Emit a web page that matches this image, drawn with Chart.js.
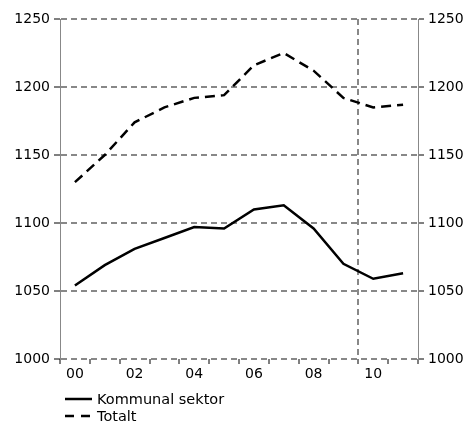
<!DOCTYPE html>
<html lang="sv">
<head>
<meta charset="UTF-8">
<title>Kommunal sektor och totalt</title>
<script src="https://cdn.jsdelivr.net/npm/chart.js"></script>
<style>
  body { margin: 0; background: #fff; font-family: 'DejaVu Sans', Verdana, sans-serif; }
  .wrap { position: relative; width: 471px; height: 423px; }
  canvas { display: block; }
  .legend { position: absolute; left: 65px; top: 390px; font-size: 14.5px; color: #000; }
  .legend .item { display: flex; align-items: center; height: 17.5px; }
  .legend svg { margin-right: 5px; }
</style>
</head>
<body>
<div class="wrap">
  <canvas id="chart" width="471" height="423"></canvas>
  <div class="legend">
    <div class="item"><svg width="27" height="4"><line x1="0" y1="2" x2="27" y2="2" stroke="#000" stroke-width="2.5"/></svg>Kommunal sektor</div>
    <div class="item"><svg width="27" height="4"><line x1="0" y1="2" x2="27" y2="2" stroke="#000" stroke-width="2.5" stroke-dasharray="9,7"/></svg>Totalt</div>
  </div>
</div>

<script>
  const years = ['00', '01', '02', '03', '04', '05', '06', '07', '08', '09', '10', '11'];
  const kommunal = [1054, 1069, 1081, 1089, 1097, 1096, 1110, 1113, 1096, 1070, 1059, 1063];
  const totalt = [1130, 1150, 1174, 1185, 1192, 1194, 1216, 1225, 1212, 1192, 1185, 1187];
  const yMin = 1000, yMax = 1250, yStep = 50;
  const forecastLine = 10; // grid line between 09 and 10

  const tickFont = { family: 'DejaVu Sans', size: 14 };

  const yAxis = (pos, width) => ({
    position: pos,
    min: yMin,
    max: yMax,
    ticks: { stepSize: yStep, color: '#000', font: tickFont, padding: 4, callback: v => String(v) },
    grid: {
      color: '#888',
      lineWidth: 2,
      drawOnChartArea: pos === 'left',
      tickColor: '#000',
      tickWidth: 1,
      tickLength: 6
    },
    border: { display: true, color: '#888', width: 1, dash: [6, 4] },
    afterFit: scale => { scale.width = width; }
  });

  new Chart(document.getElementById('chart'), {
    type: 'line',
    data: {
      labels: years,
      datasets: [
        { label: 'Kommunal sektor', data: kommunal, borderColor: '#000', borderWidth: 2.5, pointRadius: 0, tension: 0, yAxisID: 'y' },
        { label: 'Totalt', data: totalt, borderColor: '#000', borderWidth: 2.5, borderDash: [10, 6], pointRadius: 0, tension: 0, yAxisID: 'y' }
      ]
    },
    options: {
      responsive: false,
      animation: false,
      layout: { padding: { top: 19 } },
      plugins: { legend: { display: false }, tooltip: { enabled: false } },
      scales: {
        x: {
          offset: true,
          ticks: {
            autoSkip: false,
            maxRotation: 0,
            color: '#000',
            font: tickFont,
            padding: 2,
            callback: (v, i) => i % 2 === 0 ? years[i] : ''
          },
          grid: {
            offset: true,
            lineWidth: 2,
            color: ctx => ctx.index === forecastLine ? '#888' : 'rgba(0,0,0,0)',
            tickColor: '#000',
            tickWidth: 1,
            tickLength: 5
          },
          border: { display: false, dash: [6, 4] },
          afterFit: scale => { scale.height = 64; }
        },
        y: yAxis('left', 60),
        y2: yAxis('right', 53)
      }
    }
  });
</script>
</body>
</html>
